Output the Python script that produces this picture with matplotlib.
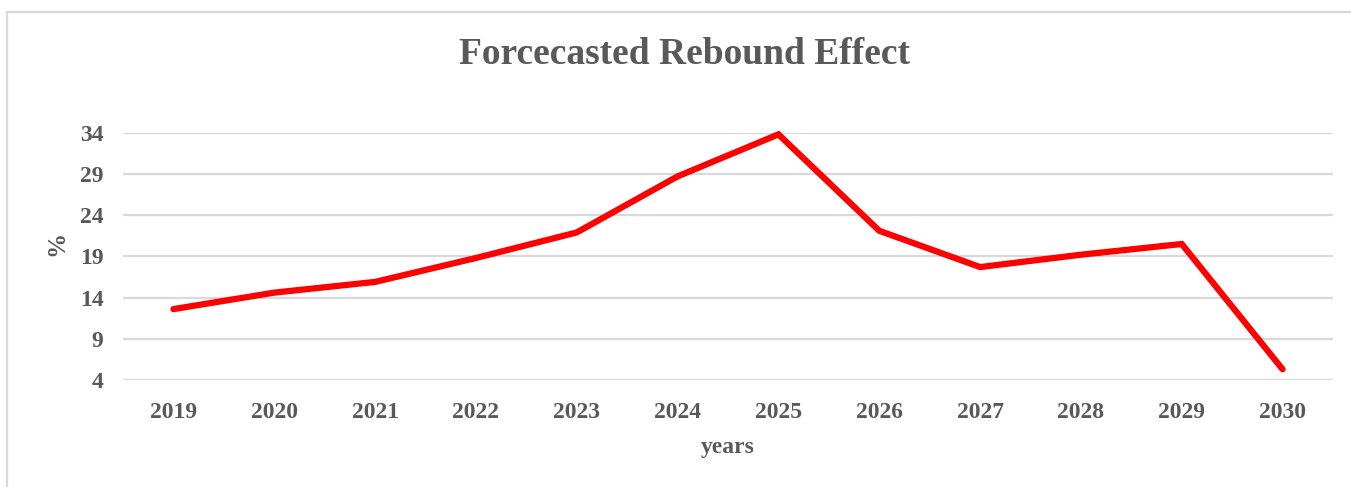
import matplotlib
matplotlib.use("Agg")
import matplotlib.pyplot as plt
from matplotlib.patches import Rectangle

years = ['2019', '2020', '2021', '2022', '2023', '2024',
         '2025', '2026', '2027', '2028', '2029', '2030']
rebound = [12.6, 14.6, 15.9, 18.8, 21.9, 28.7, 33.8, 22.1, 17.7, 19.2, 20.5, 5.3]
yticks = [4, 9, 14, 19, 24, 29, 34]

txt = '#595959'
grid = '#d9d9d9'
plt.rcParams['font.family'] = ['Liberation Serif', 'DejaVu Serif']
plt.rcParams['font.weight'] = 'bold'

W, H = 1351, 487
fig = plt.figure(figsize=(W / 100, H / 100), dpi=100)
ax = fig.add_axes([123 / W, 1 - 380 / H, (1333 - 123) / W, (380 - 132.7) / H])

x = list(range(len(years)))
ax.plot(x, rebound, color='#ff0000', lw=4.5, solid_capstyle='round',
        solid_joinstyle='miter', clip_on=False, zorder=3)

ax.set_xlim(-0.5, len(years) - 0.5)
ax.set_ylim(4, 34)
ax.set_yticks(yticks)
ax.set_xticks(x)
ax.set_xticklabels(years)
for s in ax.spines.values():
    s.set_visible(False)
ax.grid(axis='y', color=grid, lw=1.6)
ax.tick_params(length=0, labelsize=17, colors=txt)
ax.tick_params(axis='y', pad=14)
ax.tick_params(axis='x', pad=16)
for lab in ax.get_xticklabels() + ax.get_yticklabels():
    lab.set_fontweight('bold')

ax.set_xlabel('years', fontsize=17, color=txt, fontweight='bold', va='center')
ax.set_ylabel('%', fontsize=18, color=txt, fontweight='bold', va='center')
ax.xaxis.set_label_coords(0.5, (380 - 447) / 247.3)
ax.yaxis.set_label_coords((57 - 123) / 1210, 0.5 - (243 - 256) / 247.3)

fig.text(685 / W, 1 - 55 / H, 'Forcecasted Rebound Effect', ha='center', va='center',
         fontsize=27, color=txt, fontweight='bold')

fig.add_artist(Rectangle((7 / W, -0.1), 2, 1 - 12 / H + 0.1, transform=fig.transFigure,
                         fill=False, edgecolor=grid, lw=1.6))

fig.savefig('out.png', dpi=100)
